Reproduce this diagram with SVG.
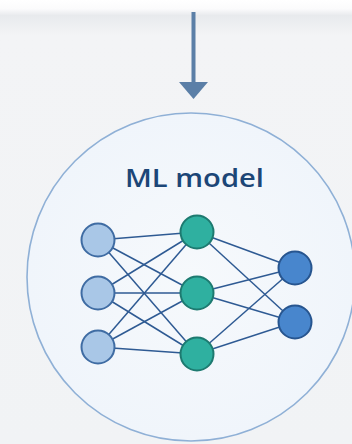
<svg xmlns="http://www.w3.org/2000/svg" width="352" height="444" viewBox="0 0 352 444">
  <defs>
    <linearGradient id="bg" x1="0" y1="0" x2="0" y2="1">
      <stop offset="0" stop-color="#ffffff"/>
      <stop offset="0.02" stop-color="#fbfbfc"/>
      <stop offset="0.035" stop-color="#e8eaed"/>
      <stop offset="0.08" stop-color="#f3f4f6"/>
      <stop offset="1" stop-color="#f1f3f5"/>
    </linearGradient>
    <radialGradient id="big" cx="0.5" cy="0.5" r="0.5">
      <stop offset="0" stop-color="#f6f9fc"/>
      <stop offset="1" stop-color="#f0f5fb"/>
    </radialGradient>
  </defs>
  <style>
    .edge { stroke: #2e5a93; stroke-width: 1.5; fill: none; }
    .in { fill: #a9c7e7; stroke: #3f6ca3; stroke-width: 2; }
    .hid { fill: #2fb0a0; stroke: #1d7a70; stroke-width: 2; }
    .out { fill: #4886cd; stroke: #27558f; stroke-width: 2; }
    .title { font-family: "Open Sans", "DejaVu Sans", sans-serif; font-weight: 600; font-size: 25px; fill: #1c4677; }
  </style>
  <rect x="0" y="0" width="352" height="444" fill="url(#bg)"/>

  <g id="arrow">
    <line x1="193.5" y1="12" x2="193.5" y2="84" stroke="#5b7fa7" stroke-width="4"/>
    <polygon points="179,82 208,82 193.5,99" fill="#5b7fa7"/>
  </g>

  <g id="ml-model">
    <circle cx="191" cy="277" r="164" fill="url(#big)" stroke="#8fb0d6" stroke-width="1.6"/>
    <text class="title" x="194.5" y="187" text-anchor="middle" textLength="139" lengthAdjust="spacingAndGlyphs">ML model</text>
  </g>

  <g id="connectors">
    <line class="edge" x1="98" y1="240" x2="197" y2="232"/>
    <line class="edge" x1="98" y1="240" x2="197" y2="293"/>
    <line class="edge" x1="98" y1="240" x2="197" y2="354"/>
    <line class="edge" x1="98" y1="293" x2="197" y2="232"/>
    <line class="edge" x1="98" y1="293" x2="197" y2="293"/>
    <line class="edge" x1="98" y1="293" x2="197" y2="354"/>
    <line class="edge" x1="98" y1="347" x2="197" y2="232"/>
    <line class="edge" x1="98" y1="347" x2="197" y2="293"/>
    <line class="edge" x1="98" y1="347" x2="197" y2="354"/>
    <line class="edge" x1="197" y1="232" x2="295" y2="268"/>
    <line class="edge" x1="197" y1="232" x2="295" y2="322"/>
    <line class="edge" x1="197" y1="293" x2="295" y2="268"/>
    <line class="edge" x1="197" y1="293" x2="295" y2="322"/>
    <line class="edge" x1="197" y1="354" x2="295" y2="268"/>
    <line class="edge" x1="197" y1="354" x2="295" y2="322"/>
  </g>

  <g id="input-1"><circle class="in" cx="98" cy="240" r="16.5"/></g>
  <g id="input-2"><circle class="in" cx="98" cy="293" r="16.5"/></g>
  <g id="input-3"><circle class="in" cx="98" cy="347" r="16.5"/></g>
  <g id="hidden-1"><circle class="hid" cx="197" cy="232" r="16.5"/></g>
  <g id="hidden-2"><circle class="hid" cx="197" cy="293" r="16.5"/></g>
  <g id="hidden-3"><circle class="hid" cx="197" cy="354" r="16.5"/></g>
  <g id="output-1"><circle class="out" cx="295" cy="268" r="16.5"/></g>
  <g id="output-2"><circle class="out" cx="295" cy="322" r="16.5"/></g>
</svg>
